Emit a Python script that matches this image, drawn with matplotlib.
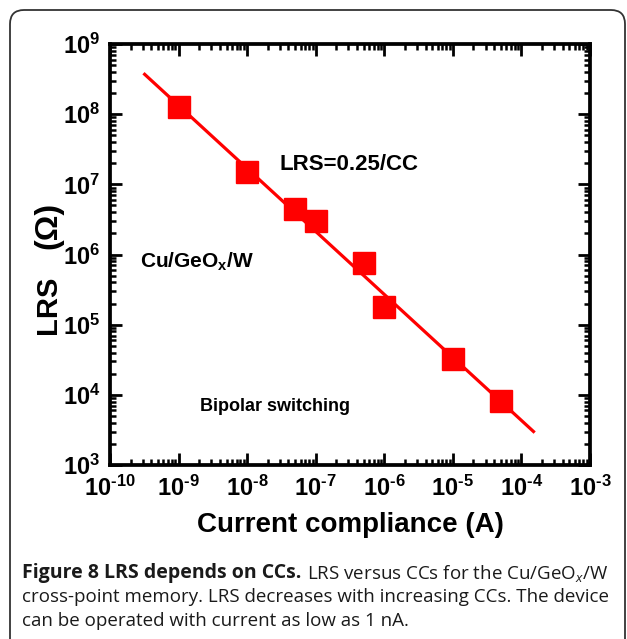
import matplotlib
matplotlib.use("Agg")
import matplotlib.pyplot as plt
from matplotlib.patches import FancyBboxPatch
from matplotlib.transforms import IdentityTransform
from matplotlib.ticker import LogLocator, FuncFormatter, NullFormatter
import numpy as np

# ---- data ----
cc_points = [1e-9, 1e-8, 5e-8, 1e-7, 5e-7, 1e-6, 1e-5, 5e-5]
lrs_points = [1.27e8, 1.5e7, 4.4e6, 3.0e6, 7.6e5, 1.8e5, 3.2e4, 8.1e3]
fit_cc = [3.2e-10, 1.5e-4]
fit_lrs = [3.7e8, 3.0e3]
x_ticks = [1e-10, 1e-9, 1e-8, 1e-7, 1e-6, 1e-5, 1e-4, 1e-3]
y_ticks = [1e3, 1e4, 1e5, 1e6, 1e7, 1e8, 1e9]

plt.rcParams['font.family'] = ['Liberation Sans', 'DejaVu Sans']
plt.rcParams['mathtext.fontset'] = 'custom'
plt.rcParams['mathtext.rm'] = 'Liberation Sans:bold'
plt.rcParams['mathtext.bf'] = 'Liberation Sans:bold'
plt.rcParams['mathtext.it'] = 'Open Sans:italic'

W, H = 627, 639
fig = plt.figure(figsize=(W / 100, H / 100), dpi=100)

# rounded frame
box = FancyBboxPatch((10, -30), 615, H - 10 + 30,
                     boxstyle="round,pad=0,rounding_size=14",
                     transform=IdentityTransform(), facecolor='none',
                     edgecolor='#333333', linewidth=1.3)
fig.patches.append(box)

ax = fig.add_axes([110 / W, 1 - 465 / H, 480 / W, 421 / H])
ax.set_xscale('log')
ax.set_yscale('log')
ax.set_xlim(1e-10, 1e-3)
ax.set_ylim(1e3, 1e9)

ax.plot(fit_cc, fit_lrs, color='#ff0000', lw=2.3, zorder=2)
ax.plot(cc_points, lrs_points, ls='none', marker='s', ms=15.5,
        color='#ff0000', mec='#ff0000', zorder=3)

for s in ax.spines.values():
    s.set_linewidth(2.7)

def fmt(v, pos):
    e = int(round(np.log10(v)))
    if e < 0:
        return r'10$^{\text{-}\mathbf{%d}}$' % (-e)
    return r'10$^{\mathbf{%d}}$' % e

ax.set_xticks(x_ticks)
ax.set_yticks(y_ticks)
ax.xaxis.set_major_formatter(FuncFormatter(fmt))
ax.yaxis.set_major_formatter(FuncFormatter(fmt))
ax.xaxis.set_minor_locator(LogLocator(base=10, subs=np.arange(2, 10), numticks=20))
ax.yaxis.set_minor_locator(LogLocator(base=10, subs=np.arange(2, 10), numticks=20))
ax.xaxis.set_minor_formatter(NullFormatter())
ax.yaxis.set_minor_formatter(NullFormatter())
ax.tick_params(which='both', direction='in', top=True, right=True, width=2)
ax.tick_params(which='major', length=8.5, labelsize=17)
ax.tick_params(which='minor', length=4.5, width=1.8)
ax.tick_params(axis='x', which='major', pad=8)
ax.tick_params(axis='y', which='major', pad=7)
for lab in ax.get_xticklabels() + ax.get_yticklabels():
    lab.set_fontweight('bold')

ax.set_xlabel('Current compliance (A)', fontsize=20, fontweight='bold', labelpad=8)

# y label in two parts, sharing a baseline
fig.text(56 / W, 1 - 305 / H, 'LRS', fontsize=21, fontweight='bold',
         rotation=90, rotation_mode='anchor', ha='center', va='baseline')
fig.text(56 / W, 1 - 225 / H, '(Ω)', fontsize=23, fontweight='bold',
         rotation=90, rotation_mode='anchor', ha='center', va='baseline')

ax.text(0.354, 0.713, 'LRS=0.25/CC', transform=ax.transAxes, fontsize=16,
        fontweight='bold', ha='left', va='center')
ax.text(0.063, 0.483, r'Cu/GeO$_{\mathbf{x}}$/W', transform=ax.transAxes,
        fontsize=15, fontweight='bold', ha='left', va='center')
ax.text(0.188, 0.138, 'Bipolar switching', transform=ax.transAxes,
        fontsize=13, fontweight='bold', ha='left', va='center')

# caption
renderer = fig.canvas.get_renderer()
x0 = 22
t1 = fig.text(x0 / W, 1 - 573 / H, 'Figure 8 LRS depends on CCs.', fontsize=14,
              family='Open Sans', fontweight='bold', color='#1a1a1a',
              ha='left', va='center')
bb = t1.get_window_extent(renderer)
fig.text((bb.x1 + 6) / W, 1 - 573 / H,
         r'LRS versus CCs for the Cu/GeO$_{\mathit{x}}$/W',
         fontsize=13.5, family='Open Sans', color='#1a1a1a', ha='left', va='center')
fig.text(x0 / W, 1 - 597 / H,
         'cross-point memory. LRS decreases with increasing CCs. The device',
         fontsize=13.5, family='Open Sans', color='#1a1a1a', ha='left', va='center')
fig.text(x0 / W, 1 - 621 / H,
         'can be operated with current as low as 1 nA.',
         fontsize=13.5, family='Open Sans', color='#1a1a1a', ha='left', va='center')

fig.savefig('out.png', dpi=100)
